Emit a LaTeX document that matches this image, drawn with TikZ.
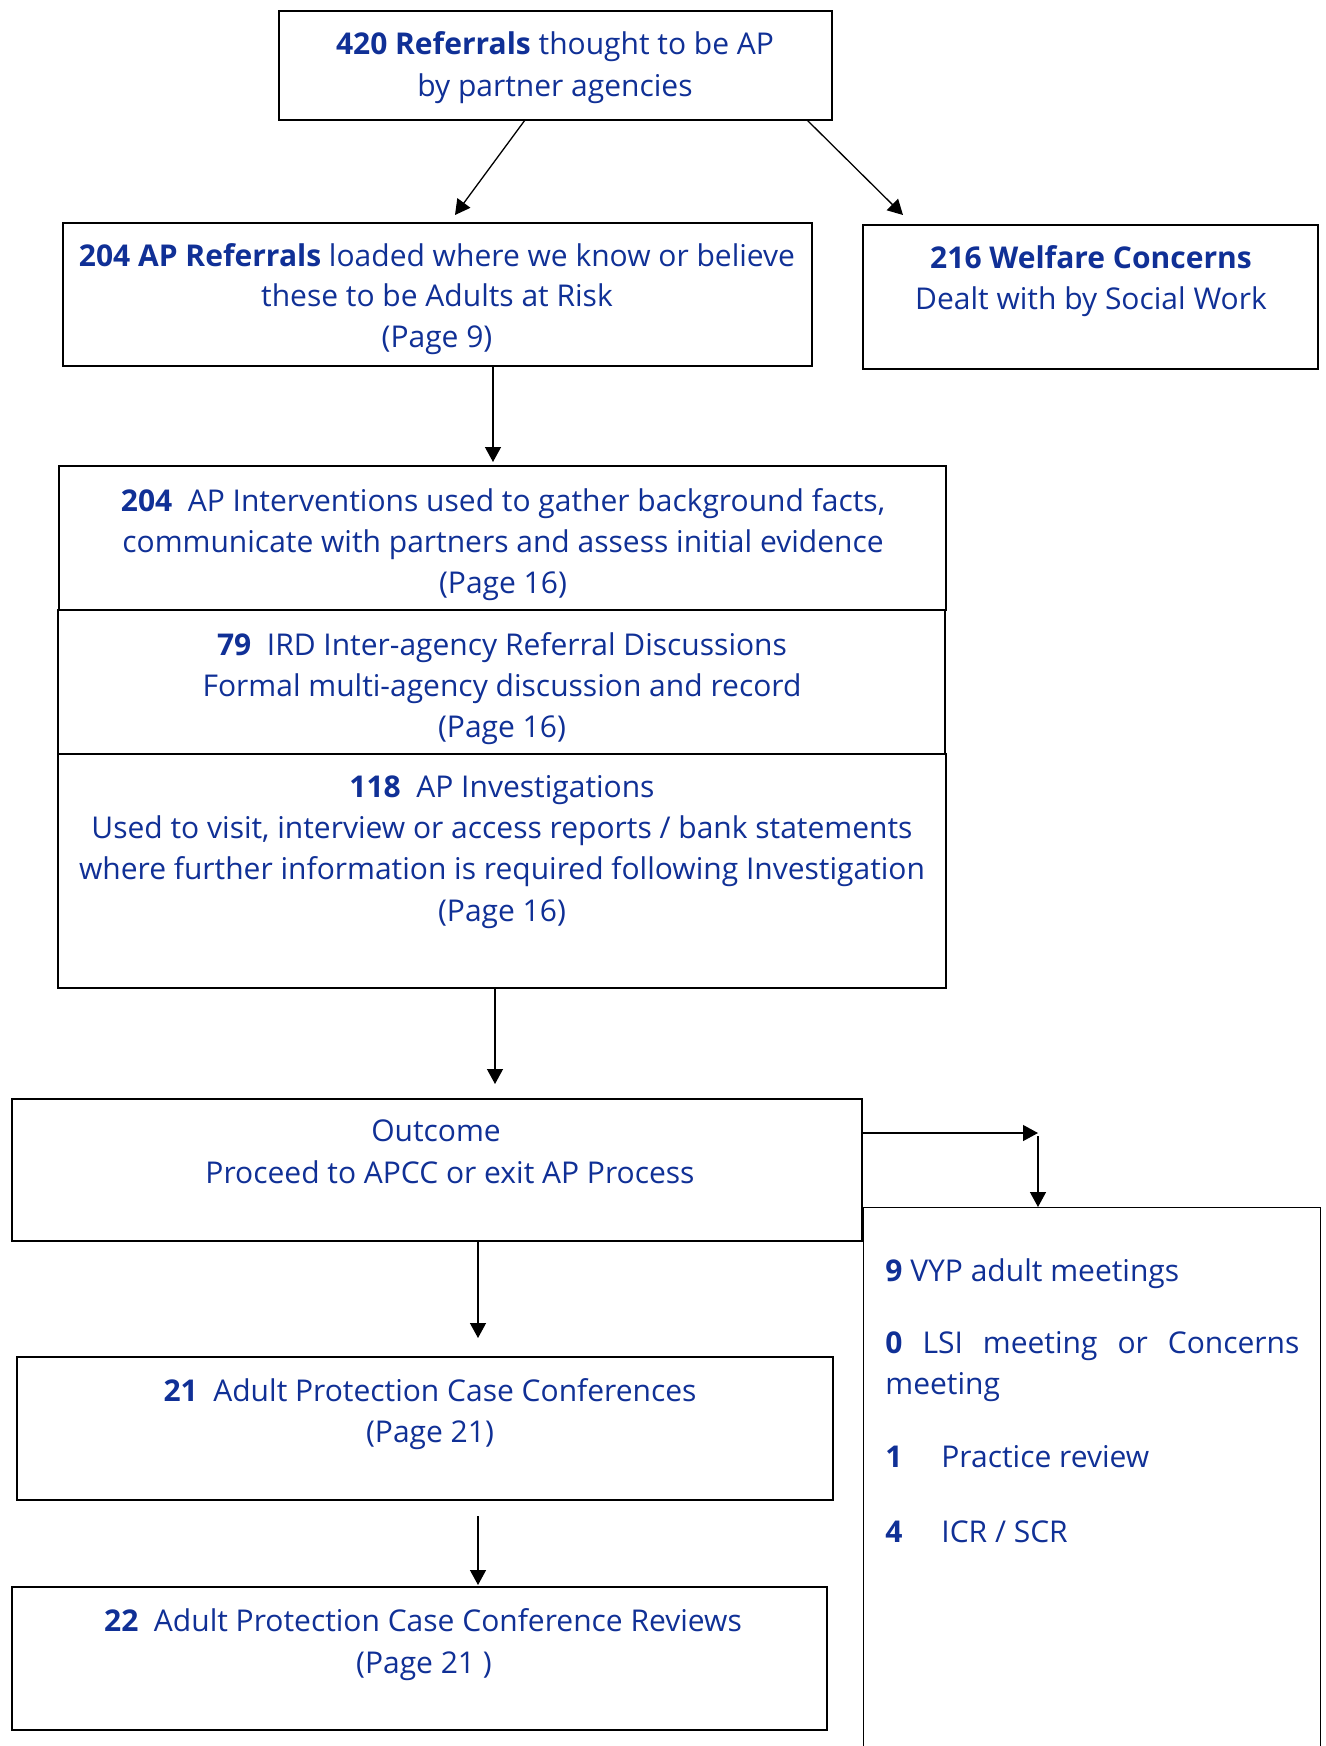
\documentclass[tikz,border=0pt]{standalone}
\usepackage{fontspec}
\setmainfont{Open Sans}
\usetikzlibrary{arrows.meta,fit}
\definecolor{apblue}{RGB}{16,48,150}
\begin{document}
\begin{tikzpicture}[x=0.5pt,y=-0.5pt,
  box/.style={draw=black,line width=0.85pt,inner sep=0pt},
  ghost/.style={inner sep=0pt},
  ln/.style={anchor=mid,inner sep=0pt,text=apblue,font=\fontsize{15}{18}\selectfont,yshift=-3pt},
  lnl/.style={ln,anchor=mid west},
  arr/.style={draw=black,line width=0.65pt,-{Triangle[length=7.5pt,width=8pt]}}]
\useasboundingbox[fill=white] (0,0) rectangle (1326,1746);
% boxes
\node[box,fit={(279,11) (832,120)}] (b1) {};
\node[box,fit={(63,223) (812,366)}] (b2) {};
\node[box,fit={(863,225) (1318,369)}] (b3) {};
\node[box,fit={(59,466) (946,610)}] (b4) {};
\node[box,fit={(58,610) (945,754)}] (b5) {};
\node[box,fit={(58,754) (946,988)}] (b6) {};
\node[box,fit={(12,1099) (862,1241)}] (b7) {};
\node[ghost,fit={(864,1208) (1320,1770)}] (b8) {};
\draw[line width=0.85pt] (b8.south west) -- (b8.north west) -- (b8.north east) -- (b8.south east);
\node[box,fit={(17,1357) (833,1500)}] (b9) {};
\node[box,fit={(12,1587) (827,1730)}] (b10) {};
% texts
\node[ln] (t1a) at (555,43) {\textbf{420 Referrals} thought to be AP};
\node[ln] (t1b) at (555,85) {by partner agencies};
\node[ln] (t2a) at (437,255) {\textbf{204 AP Referrals} loaded where we know or believe};
\node[ln] (t2b) at (437,295) {these to be Adults at Risk};
\node[ln] (t2c) at (437,336) {(Page 9)};
\node[ln] (t3a) at (1091,257) {\textbf{216 Welfare Concerns}};
\node[ln] (t3b) at (1091,298) {Dealt with by Social Work};
\node[ln] (t4a) at (503,500) {\textbf{204} \ AP Interventions used to gather background facts,};
\node[ln] (t4b) at (503,541) {communicate with partners and assess initial evidence};
\node[ln] (t4c) at (503,582) {(Page 16)};
\node[ln] (t5a) at (502,644) {\textbf{79} \ IRD Inter-agency Referral Discussions};
\node[ln] (t5b) at (502,685) {Formal multi-agency discussion and record};
\node[ln] (t5c) at (502,726) {(Page 16)};
\node[ln] (t6a) at (502,786) {\textbf{118} \ AP Investigations};
\node[ln] (t6b) at (502,827) {Used to visit, interview or access reports / bank statements};
\node[ln] (t6c) at (502,868) {where further information is required following Investigation};
\node[ln] (t6d) at (502,910) {(Page 16)};
\node[ln] (t7a) at (436,1130) {Outcome};
\node[ln] (t7b) at (450,1172) {Proceed to APCC or exit AP Process};
\node[ln] (t9a) at (430,1390) {\textbf{21} \ Adult Protection Case Conferences};
\node[ln] (t9b) at (430,1431) {(Page 21)};
\node[ln] (t10a) at (423,1620) {\textbf{22} \ Adult Protection Case Conference Reviews};
\node[ln] (t10b) at (424,1662) {(Page 21 )};
\node[lnl] (t8a) at (885,1270) {\textbf{9} VYP adult meetings};
\node[lnl] (t8b) at (885,1342) {\makebox[207pt][s]{\textbf{0} LSI meeting or Concerns}};
\node[lnl] (t8c) at (885,1383) {meeting};
\node[lnl] (t8d) at (885,1456) {\textbf{1}};
\node[lnl] (t8e) at (941,1456) {Practice review};
\node[lnl] (t8f) at (885,1531) {\textbf{4}};
\node[lnl] (t8g) at (941,1531) {ICR / SCR};
% connector coordinates
\coordinate (s1) at (525,120); \coordinate (e1) at (455,215);
\coordinate (s2) at (807,120); \coordinate (e2) at (903,215);
\coordinate (s3) at (493,367); \coordinate (e3) at (493,462);
\coordinate (s4) at (495,989); \coordinate (e4) at (495,1084);
\coordinate (s5) at (863,1133); \coordinate (e5) at (1038,1133);
\coordinate (s6) at (1038,1136); \coordinate (e6) at (1038,1207);
\coordinate (s7) at (478,1242); \coordinate (e7) at (478,1338);
\coordinate (s8) at (478,1516); \coordinate (e8) at (478,1585);
\draw[arr] (s1) -- (e1);
\draw[arr] (s2) -- (e2);
\draw[arr] (s3) -- (e3);
\draw[arr] (s4) -- (e4);
\draw[arr] (s5) -- (e5);
\draw[arr] (s6) -- (e6);
\draw[arr] (s7) -- (e7);
\draw[arr] (s8) -- (e8);
\end{tikzpicture}
\end{document}
